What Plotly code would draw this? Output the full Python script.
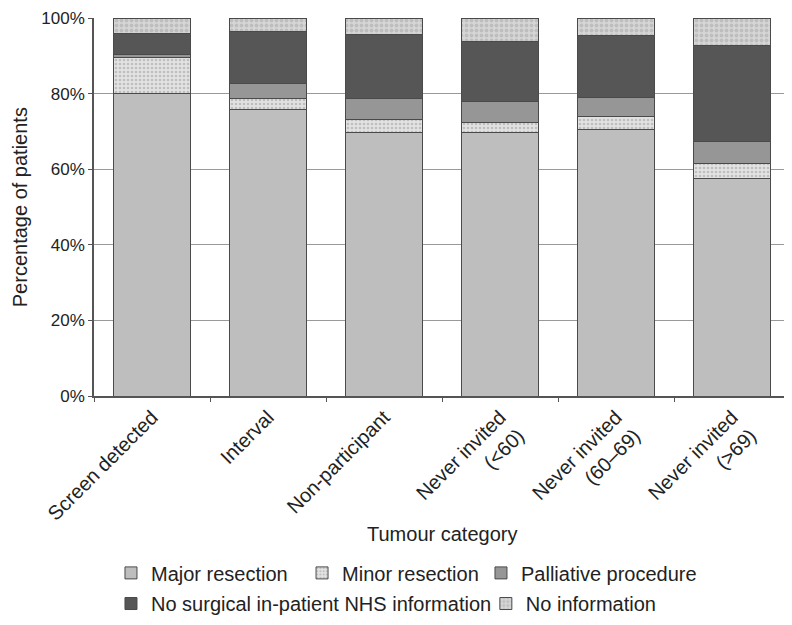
import plotly.graph_objects as go

categories = ["Screen detected", "Interval", "Non-participant",
              "Never invited<br>(&lt;60)", "Never invited<br>(60–69)", "Never invited<br>(&gt;69)"]
major = [80.0, 75.8, 69.6, 69.6, 70.5, 57.6]
minor = [9.6, 2.8, 3.6, 2.8, 3.4, 3.9]
palliative = [0.8, 4.0, 5.5, 5.4, 5.0, 5.7]
no_surgical = [5.4, 13.8, 17.0, 16.0, 16.4, 25.5]
no_info = [4.2, 3.6, 4.3, 6.2, 4.7, 7.3]
y_ticks = [0, 20, 40, 60, 80, 100]
y_tick_labels = ["0%", "20%", "40%", "60%", "80%", "100%"]

FONT = "Liberation Sans, Arial, sans-serif"
FS = 20
TXT = "#222222"
# name, values, marker style, legend id, legend x (paper), legend y (paper)
series = [
    ("Major resection", major, dict(color="#bebebe"), "legend", 0.0244, -0.468),
    ("Minor resection", minor, dict(color="#dcdcdc", pattern=dict(shape=".", fgcolor="#9a9a9a", bgcolor="#e2e2e2", size=4, solidity=0.35)), "legend2", 0.2989, -0.468),
    ("Palliative procedure", palliative, dict(color="#969696"), "legend3", 0.556, -0.468),
    ("No surgical in-patient NHS information", no_surgical, dict(color="#565656"), "legend4", 0.0244, -0.549),
    ("No information", no_info, dict(color="#c8c8c8", pattern=dict(shape=".", fgcolor="#a5a5a5", bgcolor="#d6d6d6", size=5, solidity=0.45)), "legend5", 0.563, -0.549),
]

fig = go.Figure()
legends = {}
for name, vals, mk, lg, lx, ly in series:
    mk = dict(mk)
    mk["line"] = dict(color="#4a4a4a", width=1)
    fig.add_trace(go.Bar(x=categories, y=vals, name=name, marker=mk, width=0.67, legend=lg))
    legends[lg] = dict(orientation="h", xanchor="left", yanchor="middle", x=lx, y=ly,
                       font=dict(size=FS, family=FONT, color=TXT), bgcolor="rgba(0,0,0,0)")

fig.update_layout(
    width=784, height=617,
    barmode="stack",
    plot_bgcolor="white", paper_bgcolor="white",
    margin=dict(l=86, r=2, t=10, b=220),
    font=dict(family=FONT, size=FS, color=TXT),
    showlegend=True,
    annotations=[
        dict(text="Tumour category", xref="paper", yref="paper", x=0.5, y=-0.365,
             xanchor="center", yanchor="middle", showarrow=False,
             font=dict(size=FS, family=FONT, color=TXT)),
        dict(text="Percentage of patients", xref="paper", yref="paper", x=-0.106, y=0.5,
             xanchor="center", yanchor="middle", textangle=-90, showarrow=False,
             font=dict(size=FS, family=FONT, color=TXT)),
    ],
    **legends,
)
fig.update_xaxes(
    automargin=False,
    tickangle=-45, tickson="boundaries", ticks="outside", ticklen=4, tickcolor="#555555",
    showline=True, linecolor="#555555", linewidth=1.5, mirror=False,
    showgrid=False,
    tickfont=dict(size=FS),
)
fig.update_yaxes(
    automargin=False, ticklabeloverflow="allow",
    range=[0, 100], tickvals=y_ticks, ticktext=y_tick_labels,
    ticks="outside", ticklen=4, tickcolor="#555555",
    showline=True, linecolor="#555555", linewidth=1.5,
    showgrid=True, gridcolor="#9a9a9a", gridwidth=1,
    tickfont=dict(size=17),
)
fig.add_shape(type="line", xref="paper", yref="paper", x0=1, x1=1, y0=0, y1=1,
              line=dict(color="#b0b0b0", width=1.5))

fig.write_html("out.html")
